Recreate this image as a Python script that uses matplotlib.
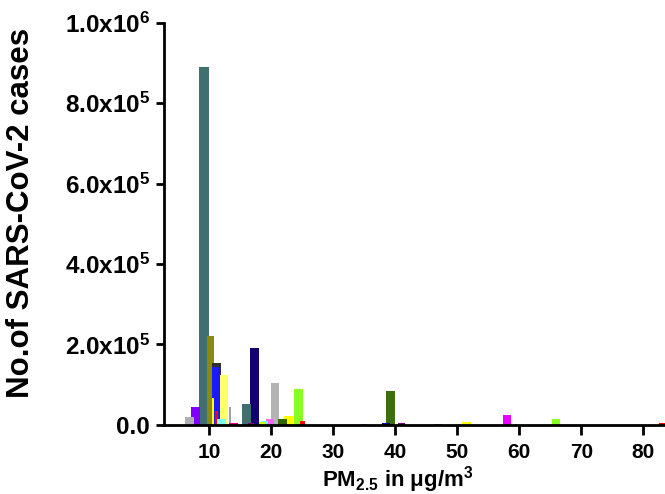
import matplotlib
matplotlib.use("Agg")
import matplotlib.pyplot as plt
from matplotlib.ticker import FixedLocator, FuncFormatter

plt.rcParams['font.family'] = ['Liberation Sans', 'DejaVu Sans']
plt.rcParams['font.weight'] = 'bold'
plt.rcParams['mathtext.fontset'] = 'custom'
plt.rcParams['mathtext.rm'] = 'Liberation Sans:bold'
plt.rcParams['mathtext.bf'] = 'Liberation Sans:bold'
plt.rcParams['mathtext.it'] = 'Liberation Sans:bold'
plt.rcParams['mathtext.default'] = 'bf'

# PM2.5 level (µg/m3) of each country/region and its number of cases
pm25 = [5.6, 6.8, 7.8, 9.2, 10.2, 11.2, 11.0, 12.4, 10.6, 13.3, 11.1, 12.0,
        16.0, 17.3, 13.9, 16.7, 18.5, 18.9, 19.8, 20.6, 24.4, 21.8, 22.8, 25.0,
        39.2, 58.0, 65.9, 51.5, 46.9, 41.0, 38.5, 35.0, 83.0, 59.5]
cases = [3000, 20000, 45000, 891000, 221000, 153000, 144000, 124000, 68000, 45000, 35000, 15000,
         53000, 192000, 5000, 4000, 6000, 10000, 15000, 104000, 89000, 15000, 22000, 10000,
         85000, 25000, 14000, 8000, 3000, 4000, 4000, 3000, 5000, 2500]
colors = ['#ccff66', '#b0b0b0', '#8000ff', '#3f7070', '#8a8a10', '#303030', '#1a1aff', '#ffff66',
          '#ffff00', '#a0a0a0', '#ff0000', '#80ffff',
          '#3f7070', '#140070', '#e0007a', '#800080', '#ccff00', '#66ffff', '#ff66ff', '#b3b3b3',
          '#88ff22', '#336600', '#ffff00', '#ff0000',
          '#3a6e10', '#e600ff', '#88ff22', '#ffff00', '#808000', '#800080', '#0000a0', '#ff8000',
          '#ff0000', '#00cccc']
widths = [1.4, 1.4, 1.4, 1.55, 1.0, 1.4, 1.0, 1.4, 0.3, 0.3, 0.5, 1.4,
          1.4, 1.4, 1.4, 1.0, 1.0, 1.0, 1.4, 1.4, 1.4, 1.4, 1.4, 0.8,
          1.4, 1.4, 1.4, 1.4, 1.4, 1.0, 1.2, 1.0, 1.0, 0.6]

x_ticks = [10, 20, 30, 40, 50, 60, 70, 80]
y_ticks = [0, 200000, 400000, 600000, 800000, 1000000]

fig = plt.figure(figsize=(6.65, 4.94), dpi=100)
ax = fig.add_axes([0.2466, 0.1400, 0.7534, 0.8138])

order = sorted(range(len(cases)), key=lambda i: -cases[i])
for i in order:
    ax.bar(pm25[i], cases[i], width=widths[i], color=colors[i], edgecolor='none', zorder=2)

ax.set_xlim(2.7, 83.5)
ax.set_ylim(0, 1000000)
ax.xaxis.set_major_locator(FixedLocator(x_ticks))
ax.yaxis.set_major_locator(FixedLocator(y_ticks))

def yfmt(v, pos):
    if v == 0:
        return '0.0'
    exp = 0
    m = v
    while m >= 10:
        m /= 10
        exp += 1
    return '%.1fx10$^{%d}$' % (m, exp)

ax.yaxis.set_major_formatter(FuncFormatter(yfmt))

for s in ['top', 'right']:
    ax.spines[s].set_visible(False)
ax.spines['left'].set_linewidth(2.0)
ax.spines['bottom'].set_linewidth(2.0)
ax.tick_params(axis='y', direction='out', length=6, width=2.0, labelsize=17.5, pad=4, colors='black')
ax.tick_params(axis='x', direction='out', length=7, width=2.0, labelsize=15, pad=6, colors='black')
for lab in ax.get_xticklabels() + ax.get_yticklabels():
    lab.set_fontweight('bold')

ax.set_xlabel('PM$_{2.5}$ in \u03bcg/m$^{3}$', fontsize=16, fontweight='bold')
ax.xaxis.set_label_coords(0.467, -0.097)
ax.set_ylabel('No.of SARS-CoV-2 cases', fontsize=22.5, fontweight='bold')
ax.yaxis.set_label_coords(-0.256, 0.527)

fig.savefig('out.png', dpi=100)
